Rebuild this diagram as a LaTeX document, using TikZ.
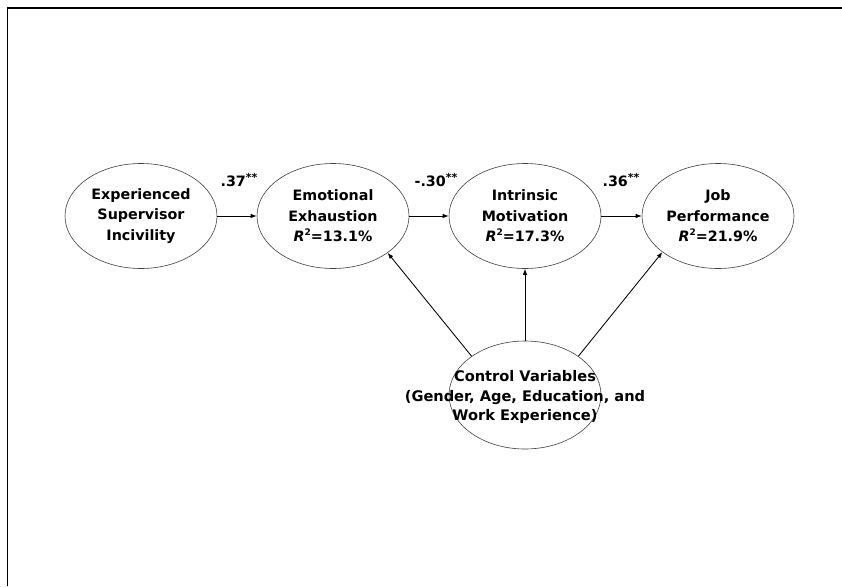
\documentclass[tikz,border=0pt]{standalone}
\usepackage{fontspec}
\setmainfont{DejaVu Sans}
\usetikzlibrary{shapes.geometric,arrows.meta}
\tikzset{
	var/.style={draw=black!75,line width=0.6pt,ellipse,inner sep=0pt,
		minimum width=152pt,minimum height=105pt,align=center,
		font=\fontsize{14.3}{20.5}\selectfont\bfseries},
	path/.style={-{Latex[length=6pt,width=4.5pt]},line width=0.85pt},
	coef/.style={font=\fontsize{14.3}{16}\selectfont\bfseries}
}
\newcommand{\rsq}[1]{\textit{R}\raisebox{0.42em}{\fontsize{9}{9}\selectfont 2}=#1\%}
\newcommand{\sig}{\raisebox{0.36em}{\fontsize{11}{11}\selectfont **}}
\begin{document}
\begin{tikzpicture}[x=1pt,y=-1pt]
	\useasboundingbox (0,0) rectangle (842,586);
	\draw[line width=1.3pt] (7.5,586) -- (7.5,8) -- (842,8);
	% latent variables
	\node[var] (esi) at (141,216) {Experienced\\Supervisor\\Incivility};
	\node[var] (ee) at (333,216) {Emotional\\Exhaustion\\\rsq{13.1}};
	\node[var] (im) at (525,216) {Intrinsic\\Motivation\\\rsq{17.3}};
	\node[var] (jp) at (718,216) {Job\\Performance\\\rsq{21.9}};
	\node[var,minimum height=108pt] (cv) at (525,395) {};
	\node[align=center,font=\fontsize{14.6}{19.5}\selectfont\bfseries] (cvt) at (525,397)
		{Control Variables\\(Gender, Age, Education, and\\Work Experience)};
	% paths
	\draw[path] (esi) -- (ee);
	\draw[path] (ee) -- (im);
	\draw[path] (im) -- (jp);
	\draw[path] (cv.144) -- (ee.-34);
	\draw[path] (cv.north) -- (im.south);
	\draw[path] (cv.36) -- (jp.-147);
	% coefficients
	\node[coef] (c1) at (239,180) {.37\sig};
	\node[coef] (c2) at (436,180) {-.30\sig};
	\node[coef] (c3) at (621,180) {.36\sig};
\end{tikzpicture}
\end{document}
